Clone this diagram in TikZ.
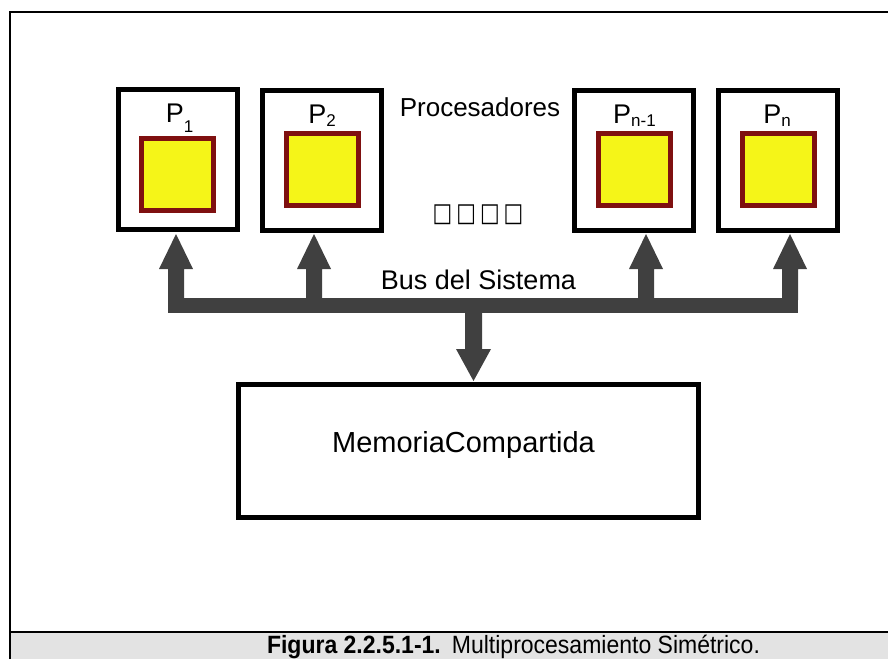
\documentclass[tikz,border=0pt]{standalone}
\usepackage{fontspec}
\setmainfont{Liberation Sans}
\newfontfamily\symfont{DejaVu Sans}
\definecolor{chipyellow}{HTML}{F5F518}
\definecolor{chipred}{HTML}{7F1010}
\definecolor{busgray}{HTML}{404040}
\definecolor{bandgray}{HTML}{E3E3E3}
\tikzset{
  procbox/.style={draw=black,line width=5pt,minimum width=119pt,minimum height=140pt,inner sep=0pt,outer sep=0pt},
  chip/.style={draw=chipred,fill=chipyellow,line width=5pt,minimum size=72pt,inner sep=0pt,outer sep=0pt},
  membox/.style={draw=black,line width=5pt,minimum width=460pt,minimum height=133pt,inner sep=0pt,outer sep=0pt},
  lbl/.style={font=\fontsize{27}{31}\selectfont,inner sep=0pt,anchor=base},
  bigtxt/.style={font=\fontsize{29}{33}\selectfont,inner sep=0pt,anchor=base},
  busbar/.style={fill=busgray,minimum width=630pt,minimum height=15pt,inner sep=0pt,outer sep=0pt},
  uparrow/.pic={\fill[busgray] (0,0) -- (17,35) -- (8,35) -- (8,66) -- (-8,66) -- (-8,35) -- (-17,35) -- cycle;},
  downarrow/.pic={\fill[busgray] (0,0) -- (17.5,-32) -- (8.5,-32) -- (8.5,-70) -- (-8.5,-70) -- (-8.5,-32) -- (-17.5,-32) -- cycle;}
}
\newcommand{\subdown}[2]{\raisebox{-#1pt}{\fontsize{17}{20}\selectfont #2}}
\newcommand{\boxglyph}{\scalebox{0.8}[1]{□}}
\begin{document}
\begin{tikzpicture}[x=1pt,y=-1pt]
\useasboundingbox (0,0) rectangle (888,659);
% frame and caption band
\fill[bandgray] (10,632) rectangle (888,659);
\draw[line width=2pt] (10,659) -- (10,12) -- (888,12);
\draw[line width=2pt] (10,632) -- (888,632);
\node[font=\fontsize{25}{28}\selectfont,inner sep=0pt,anchor=base] (cap) at (513.5,653)
  {\scalebox{0.92}[1]{\textbf{Figura 2.2.5.1-1.}\hspace{12pt}Multiprocesamiento Simétrico.}};
% processors
\node[procbox] (p1) at (177.5,159) {};
\node[procbox] (p2) at (321.5,160.5) {};
\node[procbox] (pn1) at (634,160.5) {};
\node[procbox] (pn) at (778,160.5) {};
\node[chip] (c1) at (177.5,174.5) {};
\node[chip] (c2) at (322,169.5) {};
\node[chip] (cn1) at (634,169.5) {};
\node[chip] (cn) at (778,169.5) {};
\node[lbl] (l1) at (179.5,122) {P\subdown{10}{1}};
\node[lbl] (l2) at (322,123) {P\subdown{3}{2}};
\node[lbl] (ln1) at (634.5,123) {P\subdown{3}{n-1}};
\node[lbl] (ln) at (777,123) {P\subdown{3}{n}};
\node[lbl,font=\fontsize{26}{30}\selectfont] (proc) at (480,116) {Procesadores};
\node[lbl,font=\symfont\fontsize{26}{30}\selectfont] (dots) at (478,221) {\boxglyph\hspace{4pt}\boxglyph\hspace{4pt}\boxglyph\hspace{4pt}\boxglyph};
% bus
\node[busbar] (bus) at (483,305.5) {};
\node[lbl] (buslbl) at (478.5,289) {Bus del Sistema};
\coordinate (t1) at (176,234);
\coordinate (t2) at (314,234);
\coordinate (tn1) at (646,234);
\coordinate (tn) at (790,234);
\coordinate (tm) at (473.5,381);
\pic at (t1) {uparrow};
\pic at (t2) {uparrow};
\pic at (tn1) {uparrow};
\pic at (tn) {uparrow};
\pic at (tm) {downarrow};
% memory
\node[membox] (mem) at (468.5,451) {};
\node[bigtxt] (memlbl) at (463.5,452) {MemoriaCompartida};
\end{tikzpicture}
\end{document}
